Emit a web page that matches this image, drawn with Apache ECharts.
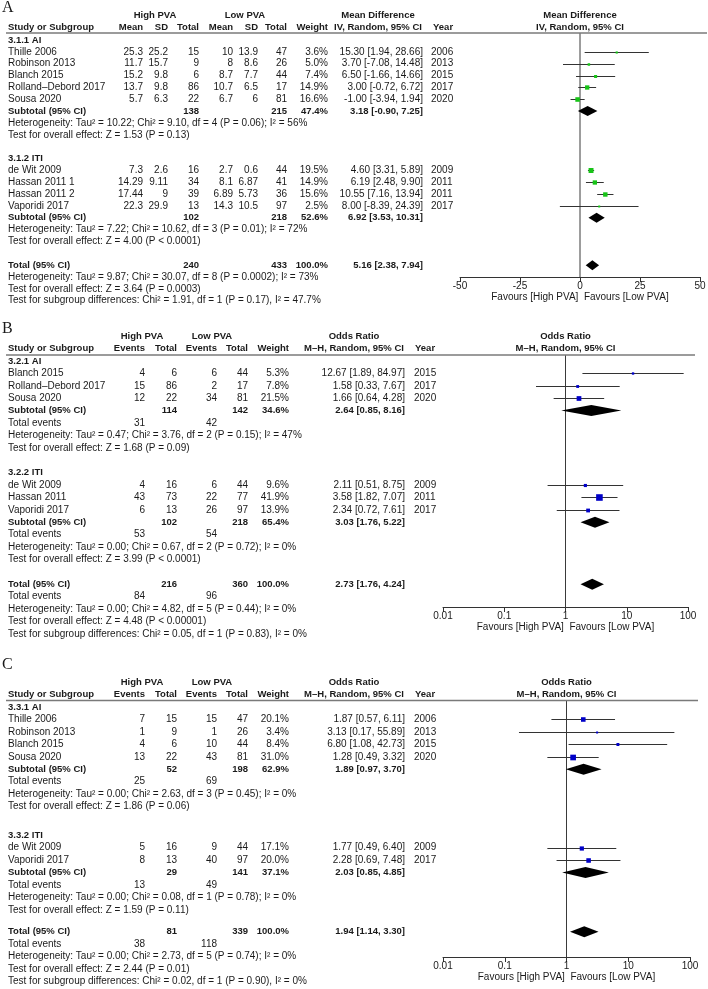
<!DOCTYPE html>
<html><head><meta charset="utf-8">
<script src="https://cdn.jsdelivr.net/npm/echarts@6/dist/echarts.min.js"></script>
<style>html,body{margin:0;padding:0;background:#fff}#c{width:708px;height:989px}</style>
</head><body><div id="c"></div>
<script>
// ================= DATA =================
// ---- Panel A : Mean Difference (IV, Random) ----
const A_groups = ['3.1.1 AI', '3.1.2 ITI'];
const A_study = ['Thille 2006','Robinson 2013','Blanch 2015','Rolland\u2013Debord 2017','Sousa 2020','de Wit 2009','Hassan 2011 1','Hassan 2011 2','Vaporidi 2017'];
const A_group = [0,0,0,0,0,1,1,1,1];
const A_hiMean = [25.3,11.7,15.2,13.7,5.7,7.3,14.29,17.44,22.3];
const A_hiSD = [25.2,15.7,9.8,9.8,6.3,2.6,9.11,9,29.9];
const A_hiN = [15,9,6,86,22,16,34,39,13];
const A_loMean = [10,8,8.7,10.7,6.7,2.7,8.1,6.89,14.3];
const A_loSD = [13.9,8.6,7.7,6.5,6,0.6,6.87,5.73,10.5];
const A_loN = [47,26,44,17,81,44,41,36,97];
const A_weight = [3.6,5.0,7.4,14.9,16.6,19.5,14.9,15.6,2.5];
const A_est = [15.30,3.70,6.50,3.00,-1.00,4.60,6.19,10.55,8.00];
const A_lo = [1.94,-7.08,-1.66,-0.72,-3.94,3.31,2.48,7.16,-8.39];
const A_hi = [28.66,14.48,14.66,6.72,1.94,5.89,9.90,13.94,24.39];
const A_year = [2006,2013,2015,2017,2020,2009,2011,2011,2017];
const A_subHiN = [138,102];
const A_subLoN = [215,218];
const A_subW = [47.4,52.6];
const A_subEst = [3.18,6.92];
const A_subLo = [-0.90,3.53];
const A_subHi = [7.25,10.31];
const A_subHet = ['Heterogeneity: Tau\u00b2 = 10.22; Chi\u00b2 = 9.10, df = 4 (P = 0.06); I\u00b2 = 56%',
                  'Heterogeneity: Tau\u00b2 = 7.22; Chi\u00b2 = 10.62, df = 3 (P = 0.01); I\u00b2 = 72%'];
const A_subTest = ['Test for overall effect: Z = 1.53 (P = 0.13)','Test for overall effect: Z = 4.00 (P < 0.0001)'];
const A_totN = [240,433];
const A_totEffect = [5.16,2.38,7.94];
const A_totText = ['Heterogeneity: Tau\u00b2 = 9.87; Chi\u00b2 = 30.07, df = 8 (P = 0.0002); I\u00b2 = 73%',
                   'Test for overall effect: Z = 3.64 (P = 0.0003)',
                   'Test for subgroup differences: Chi\u00b2 = 1.91, df = 1 (P = 0.17), I\u00b2 = 47.7%'];
const A_ticks = [-50,-25,0,25,50];

// ---- Panel B : Odds Ratio (M-H, Random) ----
const B_groups = ['3.2.1 AI', '3.2.2 ITI'];
const B_study = ['Blanch 2015','Rolland\u2013Debord 2017','Sousa 2020','de Wit 2009','Hassan 2011','Vaporidi 2017'];
const B_group = [0,0,0,1,1,1];
const B_hiEv = [4,15,12,4,43,6];
const B_hiN = [6,86,22,16,73,13];
const B_loEv = [6,2,34,6,22,26];
const B_loN = [44,17,81,44,77,97];
const B_weight = [5.3,7.8,21.5,9.6,41.9,13.9];
const B_est = [12.67,1.58,1.66,2.11,3.58,2.34];
const B_lo = [1.89,0.33,0.64,0.51,1.82,0.72];
const B_hi = [84.97,7.67,4.28,8.75,7.07,7.61];
const B_year = [2015,2017,2020,2009,2011,2017];
const B_subHiN = [114,102];
const B_subLoN = [142,218];
const B_subW = [34.6,65.4];
const B_subEst = [2.64,3.03];
const B_subLo = [0.85,1.76];
const B_subHi = [8.16,5.22];
const B_subHiEv = [31,53];
const B_subLoEv = [42,54];
const B_subHet = ['Heterogeneity: Tau\u00b2 = 0.47; Chi\u00b2 = 3.76, df = 2 (P = 0.15); I\u00b2 = 47%',
                  'Heterogeneity: Tau\u00b2 = 0.00; Chi\u00b2 = 0.67, df = 2 (P = 0.72); I\u00b2 = 0%'];
const B_subTest = ['Test for overall effect: Z = 1.68 (P = 0.09)','Test for overall effect: Z = 3.99 (P < 0.0001)'];
const B_totN = [216,360];
const B_totEv = [84,96];
const B_totEffect = [2.73,1.76,4.24];
const B_totText = ['Heterogeneity: Tau\u00b2 = 0.00; Chi\u00b2 = 4.82, df = 5 (P = 0.44); I\u00b2 = 0%',
                   'Test for overall effect: Z = 4.48 (P < 0.00001)',
                   'Test for subgroup differences: Chi\u00b2 = 0.05, df = 1 (P = 0.83), I\u00b2 = 0%'];

// ---- Panel C : Odds Ratio (M-H, Random) ----
const C_groups = ['3.3.1 AI', '3.3.2 ITI'];
const C_study = ['Thille 2006','Robinson 2013','Blanch 2015','Sousa 2020','de Wit 2009','Vaporidi 2017'];
const C_group = [0,0,0,0,1,1];
const C_hiEv = [7,1,4,13,5,8];
const C_hiN = [15,9,6,22,16,13];
const C_loEv = [15,1,10,43,9,40];
const C_loN = [47,26,44,81,44,97];
const C_weight = [20.1,3.4,8.4,31.0,17.1,20.0];
const C_est = [1.87,3.13,6.80,1.28,1.77,2.28];
const C_lo = [0.57,0.17,1.08,0.49,0.49,0.69];
const C_hi = [6.11,55.89,42.73,3.32,6.40,7.48];
const C_year = [2006,2013,2015,2020,2009,2017];
const C_subHiN = [52,29];
const C_subLoN = [198,141];
const C_subW = [62.9,37.1];
const C_subEst = [1.89,2.03];
const C_subLo = [0.97,0.85];
const C_subHi = [3.70,4.85];
const C_subHiEv = [25,13];
const C_subLoEv = [69,49];
const C_subHet = ['Heterogeneity: Tau\u00b2 = 0.00; Chi\u00b2 = 2.63, df = 3 (P = 0.45); I\u00b2 = 0%',
                  'Heterogeneity: Tau\u00b2 = 0.00; Chi\u00b2 = 0.08, df = 1 (P = 0.78); I\u00b2 = 0%'];
const C_subTest = ['Test for overall effect: Z = 1.86 (P = 0.06)','Test for overall effect: Z = 1.59 (P = 0.11)'];
const C_totN = [81,339];
const C_totEv = [38,118];
const C_totEffect = [1.94,1.14,3.30];
const C_totText = ['Heterogeneity: Tau\u00b2 = 0.00; Chi\u00b2 = 2.73, df = 5 (P = 0.74); I\u00b2 = 0%',
                   'Test for overall effect: Z = 2.44 (P = 0.01)',
                   'Test for subgroup differences: Chi\u00b2 = 0.02, df = 1 (P = 0.90), I\u00b2 = 0%'];
const OR_ticks = [0.01,0.1,1,10,100];

// ================= BUILD PANEL STRUCTURES =================
function idx(arr, gi){ return arr.map((g,i)=>g===gi?i:-1).filter(i=>i>=0); }
function buildMD(){
  return {
    title:['Mean Difference','IV, Random, 95% CI'],
    hdr2:['Mean','SD','Total','Mean','SD','Total','Weight'],
    log:false, ticks:A_ticks, zero:0,
    groups:A_groups.map((name,gi)=>({
      name,
      studies: idx(A_group,gi).map(i=>({name:A_study[i], cells:[A_hiMean[i],A_hiSD[i],A_hiN[i],A_loMean[i],A_loSD[i],A_loN[i]], w:A_weight[i], est:A_est[i], lo:A_lo[i], hi:A_hi[i], year:A_year[i]})),
      sub:{cells:[null,null,A_subHiN[gi],null,null,A_subLoN[gi]], w:A_subW[gi], est:A_subEst[gi], lo:A_subLo[gi], hi:A_subHi[gi]},
      ev:null, het:A_subHet[gi], test:A_subTest[gi]
    })),
    total:{cells:[null,null,A_totN[0],null,null,A_totN[1]], w:100, est:A_totEffect[0], lo:A_totEffect[1], hi:A_totEffect[2], ev:null, texts:A_totText}
  };
}
function buildOR(p){
  return {
    title:['Odds Ratio','M\u2013H, Random, 95% CI'],
    hdr2:['Events','Total','Events','Total','Weight'],
    log:true, ticks:OR_ticks, zero:1,
    groups:p.groups.map((name,gi)=>({
      name,
      studies: idx(p.group,gi).map(i=>({name:p.study[i], cells:[p.hiEv[i],p.hiN[i],p.loEv[i],p.loN[i]], w:p.weight[i], est:p.est[i], lo:p.lo[i], hi:p.hi[i], year:p.year[i]})),
      sub:{cells:[null,p.subHiN[gi],null,p.subLoN[gi]], w:p.subW[gi], est:p.subEst[gi], lo:p.subLo[gi], hi:p.subHi[gi]},
      ev:[p.subHiEv[gi],null,p.subLoEv[gi],null], het:p.subHet[gi], test:p.subTest[gi]
    })),
    total:{cells:[null,p.totN[0],null,p.totN[1]], w:100, est:p.totEffect[0], lo:p.totEffect[1], hi:p.totEffect[2], ev:[p.totEv[0],null,p.totEv[1],null], texts:p.totText}
  };
}
const panels = [
  buildMD(),
  buildOR({groups:B_groups, study:B_study, group:B_group, hiEv:B_hiEv, hiN:B_hiN, loEv:B_loEv, loN:B_loN, weight:B_weight, est:B_est, lo:B_lo, hi:B_hi, year:B_year,
    subHiN:B_subHiN, subLoN:B_subLoN, subW:B_subW, subEst:B_subEst, subLo:B_subLo, subHi:B_subHi, subHiEv:B_subHiEv, subLoEv:B_subLoEv, subHet:B_subHet, subTest:B_subTest,
    totN:B_totN, totEv:B_totEv, totEffect:B_totEffect, totText:B_totText}),
  buildOR({groups:C_groups, study:C_study, group:C_group, hiEv:C_hiEv, hiN:C_hiN, loEv:C_loEv, loN:C_loN, weight:C_weight, est:C_est, lo:C_lo, hi:C_hi, year:C_year,
    subHiN:C_subHiN, subLoN:C_subLoN, subW:C_subW, subEst:C_subEst, subLo:C_subLo, subHi:C_subHi, subHiEv:C_subHiEv, subLoEv:C_subLoEv, subHet:C_subHet, subTest:C_subTest,
    totN:C_totN, totEv:C_totEv, totEffect:C_totEffect, totText:C_totText})
];

// ================= LAYOUT =================
const LAY = [
  {label:'A', labelY:8, h1:15, h2:27, line:33, lineEnd:707, base:40, pitch:11.85, gaps:[1,1],
   cols:[143,168,199,233,258,287,328], ciR:423, yearL:431, hiC:155, loC:245, effC:378, hdrYearL:433,
   plotL:460, plotR:700, axisY:277, k:1.12, dh:5, color:'#17c417'},
  {label:'B', labelY:329, h1:336, h2:348, line:355, lineEnd:695, base:361, pitch:12.4, gaps:[1,1],
   cols:[145,177,217,248,289], ciR:405, yearL:414, hiC:142, loC:212, effC:354, hdrYearL:415,
   plotL:443, plotR:688, axisY:607, k:1.02, dh:5.5, color:'#0000c8'},
  {label:'C', labelY:665, h1:682, h2:694, line:700.5, lineEnd:698, base:707, pitch:12.45, gaps:[1.3,0.75],
   cols:[145,177,217,248,289], ciR:405, yearL:414, hiC:142, loC:212, effC:354, hdrYearL:415,
   plotL:443, plotR:690, axisY:957, k:1.02, dh:5.5, color:'#0000c8'}
];
const FONT = '"Liberation Sans", Arial, Helvetica, sans-serif';
const SERIF = '"Liberation Serif", "Times New Roman", serif';
const INK = '#1a1a1a';

function T(x, y, text, align, bold, size, family){
  align = align || 'left';
  const fs = size || (bold ? 9.5 : 10);
  return {type:'text', silent:true, z:10, style:{text:text, x:x, y:y, fill:INK,
    font:(bold?'bold ':'') + fs + 'px ' + (family||FONT),
    textAlign:align, align:align, textVerticalAlign:'middle', verticalAlign:'middle'}};
}
function fmtCI(e,l,h){ return e.toFixed(2)+' ['+l.toFixed(2)+', '+h.toFixed(2)+']'; }
function fmtW(w){ return w.toFixed(1)+'%'; }

const graphics = [], grids = [], xAxes = [], yAxes = [], series = [];

panels.forEach((P, pi) => {
  const L = LAY[pi];
  const Y = r => L.base + r * L.pitch;
  const pc = (L.plotL + L.plotR) / 2;
  graphics.push(T(2, L.labelY, L.label, 'left', false, 16, SERIF));
  graphics.push(T(L.hiC, L.h1, 'High PVA', 'center', true));
  graphics.push(T(L.loC, L.h1, 'Low PVA', 'center', true));
  graphics.push(T(L.effC, L.h1, P.title[0], 'center', true));
  graphics.push(T(pc, L.h1, P.title[0], 'center', true));
  graphics.push(T(8, L.h2, 'Study or Subgroup', 'left', true));
  P.hdr2.forEach((h,i) => graphics.push(T(L.cols[i], L.h2, h, 'right', true)));
  graphics.push(T(L.effC, L.h2, P.title[1], 'center', true));
  graphics.push(T(L.hdrYearL, L.h2, 'Year', 'left', true));
  graphics.push(T(pc, L.h2, P.title[1], 'center', true));
  graphics.push({type:'line', silent:true, z:9, shape:{x1:6, y1:L.line, x2:L.lineEnd, y2:L.line}, style:{stroke:'#7a7a7a', lineWidth:1.5}});

  const marks = [];
  const cellRow = (r, cells, bold) => cells.forEach((c,i) => {
    if (c !== null && c !== undefined) graphics.push(T(L.cols[i], Y(r), String(c), 'right', bold));
  });
  const wCol = L.cols[P.hdr2.length - 1];
  let r = 0;
  P.groups.forEach((g, gi) => {
    graphics.push(T(8, Y(r), g.name, 'left', true)); r++;
    g.studies.forEach(s => {
      graphics.push(T(8, Y(r), s.name));
      cellRow(r, s.cells, false);
      graphics.push(T(wCol, Y(r), fmtW(s.w), 'right'));
      graphics.push(T(L.ciR, Y(r), fmtCI(s.est, s.lo, s.hi), 'right'));
      graphics.push(T(L.yearL, Y(r), String(s.year), 'left'));
      marks.push([s.est, r, s.lo, s.hi, s.w, 0]);
      r++;
    });
    graphics.push(T(8, Y(r), 'Subtotal (95% CI)', 'left', true));
    cellRow(r, g.sub.cells, true);
    graphics.push(T(wCol, Y(r), fmtW(g.sub.w), 'right', true));
    graphics.push(T(L.ciR, Y(r), fmtCI(g.sub.est, g.sub.lo, g.sub.hi), 'right', true));
    marks.push([g.sub.est, r, g.sub.lo, g.sub.hi, 0, 1]);
    r++;
    if (g.ev) { graphics.push(T(8, Y(r), 'Total events')); cellRow(r, g.ev, false); r++; }
    graphics.push(T(8, Y(r), g.het)); r++;
    graphics.push(T(8, Y(r), g.test)); r++;
    r += L.gaps[gi];
  });
  const t = P.total;
  graphics.push(T(8, Y(r), 'Total (95% CI)', 'left', true));
  cellRow(r, t.cells, true);
  graphics.push(T(wCol, Y(r), fmtW(t.w), 'right', true));
  graphics.push(T(L.ciR, Y(r), fmtCI(t.est, t.lo, t.hi), 'right', true));
  marks.push([t.est, r, t.lo, t.hi, 0, 1]);
  r++;
  if (t.ev) { graphics.push(T(8, Y(r), 'Total events')); cellRow(r, t.ev, false); r++; }
  t.texts.forEach(s => { graphics.push(T(8, Y(r), s)); r++; });

  // ---- plot area ----
  const ymin = (L.line - L.base) / L.pitch, ymax = (L.axisY - L.base) / L.pitch;
  grids.push({left:L.plotL, top:L.line, width:L.plotR - L.plotL, height:L.axisY - L.line, containLabel:false, outerBoundsMode:'none'});
  const ax = {
    gridIndex:pi, position:'bottom',
    min:P.ticks[0], max:P.ticks[P.ticks.length-1],
    axisLine:{show:true, onZero:false, lineStyle:{color:'#333', width:1}},
    axisTick:{show:true, length:5, lineStyle:{color:'#333', width:1}},
    axisLabel:{show:true, margin:4, fontSize:10, color:INK, fontFamily:FONT, showMinLabel:true, showMaxLabel:true,
      formatter: v => String(parseFloat(Number(v).toPrecision(6)))},
    splitLine:{show:false},
    name:'Favours [High PVA]  Favours [Low PVA]', nameLocation:'middle', nameGap:14,
    nameTextStyle:{fontSize:10, color:INK, fontFamily:FONT}
  };
  if (P.log) { ax.type = 'log'; ax.logBase = 10; }
  else { ax.type = 'value'; ax.interval = P.ticks[1] - P.ticks[0]; }
  xAxes.push(ax);
  yAxes.push({gridIndex:pi, type:'value', inverse:true, min:ymin, max:ymax, show:false});

  series.push({type:'line', xAxisIndex:pi, yAxisIndex:pi, data:[[P.zero, ymin],[P.zero, ymax]],
    symbol:'none', silent:true, z:2, lineStyle:{color:'#3a3a3a', width:1}});
  const k = L.k, dh = L.dh, col = L.color;
  series.push({type:'custom', xAxisIndex:pi, yAxisIndex:pi, data:marks, encode:{x:0, y:1}, clip:false, silent:true, z:3,
    renderItem:(params, api) => {
      const est = api.value(0), row = api.value(1), lo = api.value(2), hi = api.value(3), w = api.value(4), kind = api.value(5);
      const pE = api.coord([est, row]), pL = api.coord([lo, row]), pH = api.coord([hi, row]);
      if (kind === 1) {
        return {type:'polygon', shape:{points:[[pL[0], pE[1]], [pE[0], pE[1]-dh], [pH[0], pE[1]], [pE[0], pE[1]+dh]]}, style:{fill:'#000'}};
      }
      const s = Math.max(2, k * Math.sqrt(w));
      const yy = Math.round(pE[1]) + 0.5;
      return {type:'group', children:[
        {type:'line', shape:{x1:pL[0], y1:yy, x2:pH[0], y2:yy}, style:{stroke:'#333', lineWidth:1}},
        {type:'rect', shape:{x:pE[0]-s/2, y:yy-s/2, width:s, height:s}, style:{fill:col}}
      ]};
    }});
});

const chart = echarts.init(document.getElementById('c'), null, {renderer:'canvas'});
chart.setOption({
  animation:false,
  backgroundColor:'#fff',
  grid:grids, xAxis:xAxes, yAxis:yAxes, series:series,
  graphic:{elements:graphics}
});
</script></body></html>
